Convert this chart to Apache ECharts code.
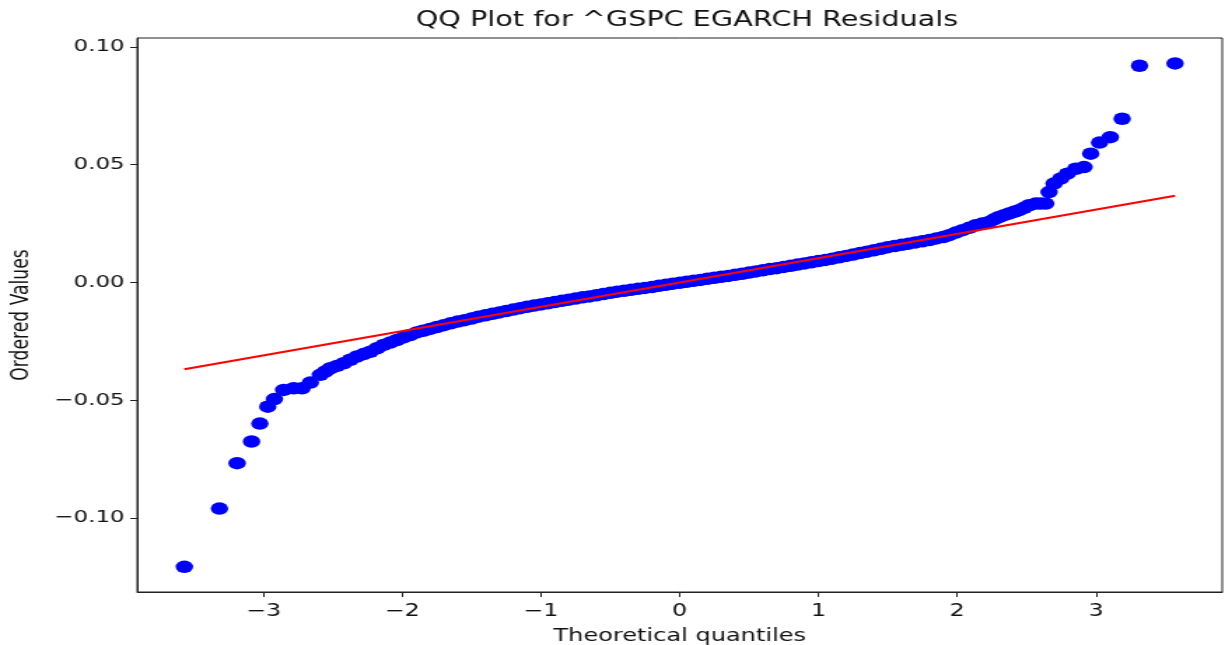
<!DOCTYPE html>
<html>
<head>
<meta charset="utf-8">
<script src="https://cdn.jsdelivr.net/npm/echarts@6/dist/echarts.min.js"></script>
<style>
  html, body { margin: 0; padding: 0; background: #fff; overflow: hidden; }
  #wrap { width: 1225px; height: 645px; overflow: hidden; }
  #chart { width: 875px; height: 645px; transform: scaleX(1.4); transform-origin: 0 0; }
</style>
</head>
<body>
<div id="wrap"><div id="chart"></div></div>
<script>
// Theoretical quantiles (x) and ordered residuals (y)
const theoreticalQ = [
  -3.570, -3.317, -3.190, -3.086, -3.026, -2.969, -2.921, -2.854, -2.782, -2.722,
  -2.662, -2.590, -2.554, -2.518, -2.470, -2.422, -2.374, -2.326, -2.278, -2.230,
  -2.182, -2.134, -2.086, -2.038, -1.990, -1.942, -1.895,
  -1.85, -1.80, -1.75, -1.70, -1.65, -1.60, -1.55, -1.50, -1.45, -1.40,
  -1.35, -1.30, -1.25, -1.20, -1.15, -1.10, -1.05, -1.00, -0.95, -0.90,
  -0.85, -0.80, -0.75, -0.70, -0.65, -0.60, -0.55, -0.50, -0.45, -0.40,
  -0.35, -0.30, -0.25, -0.20, -0.15, -0.10, -0.05, 0.00, 0.05, 0.10,
  0.15, 0.20, 0.25, 0.30, 0.35, 0.40, 0.45, 0.50, 0.55, 0.60,
  0.65, 0.70, 0.75, 0.80, 0.85, 0.90, 0.95, 1.00, 1.05, 1.10,
  1.15, 1.20, 1.25, 1.30, 1.35, 1.40, 1.45, 1.50, 1.55, 1.60,
  1.65, 1.70, 1.75, 1.80, 1.85, 1.90,
  1.942, 1.990, 2.038, 2.086, 2.134, 2.180, 2.230, 2.266, 2.302, 2.338,
  2.374, 2.410, 2.446, 2.482, 2.518, 2.566, 2.600, 2.638, 2.662, 2.698,
  2.746, 2.794, 2.854, 2.914, 2.962, 3.026, 3.103, 3.189, 3.314, 3.570
];
const orderedValues = [
  -0.1207, -0.0960, -0.0767, -0.0675, -0.0599, -0.0527, -0.0495, -0.0456, -0.0449, -0.0449,
  -0.0425, -0.0392, -0.0378, -0.0364, -0.0354, -0.0343, -0.0328, -0.0314, -0.0304, -0.0294,
  -0.0279, -0.0265, -0.0255, -0.0244, -0.0233, -0.0223, -0.0212,
  -0.0205, -0.0197, -0.0189, -0.0181, -0.0173, -0.0166, -0.0160, -0.0153, -0.0145, -0.0139,
  -0.0133, -0.0127, -0.0121, -0.0115, -0.0109, -0.0103, -0.0098, -0.0093, -0.0088, -0.0083,
  -0.0078, -0.0073, -0.0068, -0.0063, -0.0059, -0.0054, -0.0049, -0.0044, -0.0039, -0.0035,
  -0.0031, -0.0027, -0.0023, -0.0019, -0.0014, -0.0010, -0.0005, -0.0001, 0.0003, 0.0007,
  0.0011, 0.0016, 0.0020, 0.0024, 0.0028, 0.0033, 0.0037, 0.0042, 0.0047, 0.0052,
  0.0057, 0.0061, 0.0066, 0.0071, 0.0076, 0.0081, 0.0086, 0.0091, 0.0096, 0.0101,
  0.0107, 0.0113, 0.0119, 0.0125, 0.0131, 0.0137, 0.0143, 0.0150, 0.0155, 0.0160,
  0.0165, 0.0170, 0.0175, 0.0180, 0.0187, 0.0193,
  0.0201, 0.0212, 0.0222, 0.0232, 0.0243, 0.0250, 0.0257, 0.0268, 0.0278, 0.0286,
  0.0293, 0.0300, 0.0307, 0.0317, 0.0328, 0.0335, 0.0335, 0.0335, 0.0384, 0.0420,
  0.0441, 0.0462, 0.0483, 0.0490, 0.0547, 0.0594, 0.0617, 0.0695, 0.0920, 0.0930
];
// Fitted reference line end points
const fitLineX = [-3.57, 3.57];
const fitLineY = [-0.0368, 0.0368];
// Tick values
const xTicks = [-3, -2, -1, 0, 1, 2, 3];
const yTicks = [-0.10, -0.05, 0.00, 0.05, 0.10];

const scatterData = theoreticalQ.map((x, i) => [x, orderedValues[i]]);
const lineData = fitLineX.map((x, i) => [x, fitLineY[i]]);
const fmtMinus = (s) => s.replace('-', '\u2212');
const FONT = 'DejaVu Sans';

const chart = echarts.init(document.getElementById('chart'), null, { renderer: 'canvas' });
chart.setOption({
  animation: false,
  backgroundColor: '#ffffff',
  title: {
    text: 'QQ Plot for ^GSPC EGARCH Residuals',
    left: 485.7,
    textAlign: 'center',
    top: 5,
    textStyle: { fontFamily: FONT, fontSize: 20.5, fontWeight: 'normal', color: '#111' }
  },
  grid: {
    left: 98, right: 2, top: 38, bottom: 53,
    containLabel: false,
    outerBoundsMode: 'none',
    show: true, borderColor: '#222', borderWidth: 1, backgroundColor: 'transparent'
  },
  xAxis: {
    type: 'value',
    min: -3.91, max: 3.91,
    name: 'Theoretical quantiles',
    nameLocation: 'middle',
    nameGap: 36,
    nameTextStyle: { fontFamily: FONT, fontSize: 17.2, color: '#111' },
    axisLine: { show: true, onZero: false, lineStyle: { color: '#222', width: 1 } },
    axisTick: { show: true, inside: false, length: 5, customValues: xTicks, lineStyle: { color: '#222' } },
    axisLabel: {
      customValues: xTicks, margin: 11,
      fontFamily: FONT, fontSize: 17, color: '#111',
      formatter: (v) => fmtMinus(String(Math.round(v)))
    },
    splitLine: { show: false }
  },
  yAxis: {
    type: 'value',
    min: -0.1314, max: 0.1038,
    name: 'Ordered Values',
    nameLocation: 'middle',
    nameGap: 74,
    nameRotate: 90,
    nameTextStyle: { fontFamily: FONT, fontSize: 17.2, color: '#111' },
    axisLine: { show: true, onZero: false, lineStyle: { color: '#222', width: 1 } },
    axisTick: { show: true, inside: false, length: 5, customValues: yTicks, lineStyle: { color: '#222' } },
    axisLabel: {
      customValues: yTicks, margin: 9,
      fontFamily: FONT, fontSize: 16.4, color: '#111',
      formatter: (v) => fmtMinus(v.toFixed(2))
    },
    splitLine: { show: false }
  },
  series: [
    {
      type: 'scatter',
      data: scatterData,
      symbol: 'circle',
      symbolSize: 12.5,
      itemStyle: { color: '#0000ff', opacity: 1 },
      emphasis: { disabled: true },
      z: 2
    },
    {
      type: 'line',
      data: lineData,
      symbol: 'none',
      lineStyle: { color: '#ff0000', width: 2 },
      emphasis: { disabled: true },
      z: 3
    }
  ]
});
</script>
</body>
</html>
